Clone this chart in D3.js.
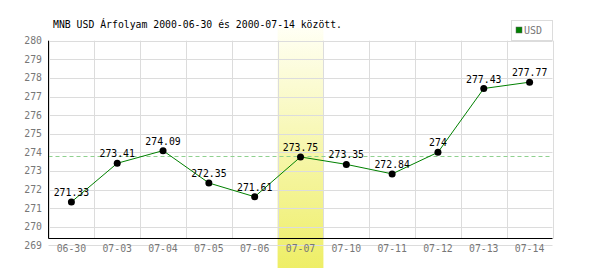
<!DOCTYPE html>
<html>
<head>
<meta charset="utf-8">
<script src="https://cdn.jsdelivr.net/npm/d3@7"></script>
<style>
  body { margin: 0; background: #fff; }
  text { font-family: "DejaVu Sans Mono", monospace; }
</style>
</head>
<body>
<div id="chart"></div>
<script>
// Data
const dates = ["06-30", "07-03", "07-04", "07-05", "07-06", "07-07", "07-10", "07-11", "07-12", "07-13", "07-14"];
const rates = [271.33, 273.41, 274.09, 272.35, 271.61, 273.75, 273.35, 272.84, 274, 277.43, 277.77];
const rateLabels = ["271.33", "273.41", "274.09", "272.35", "271.61", "273.75", "273.35", "272.84", "274", "277.43", "277.77"];
const yTicks = [269, 270, 271, 272, 273, 274, 275, 276, 277, 278, 279, 280];
const highlightDate = "07-07";
const titleText = "MNB USD Árfolyam 2000-06-30 és 2000-07-14 között.";
const seriesName = "USD";

const svg = d3.select("#chart").append("svg")
    .attr("width", 600)
    .attr("height", 270);

const plotLeft = 48.5, plotRight = 552.5, plotTop = 40.7, plotBottom = 238.5;

const x = d3.scaleBand()
    .domain(dates)
    .range([plotLeft, plotRight]);

const y = d3.scaleLinear()
    .domain([269, 280])
    .range([245.3, plotTop]);

// highlight gradient
const defs = svg.append("defs");
const grad = defs.append("linearGradient")
    .attr("id", "hl")
    .attr("x1", 0).attr("y1", 0).attr("x2", 0).attr("y2", 1);
grad.append("stop").attr("offset", "0%").attr("stop-color", "#fffff4");
grad.append("stop").attr("offset", "100%").attr("stop-color", "#eeee66");

svg.append("rect")
    .attr("x", x(highlightDate))
    .attr("y", 28)
    .attr("width", x.bandwidth())
    .attr("height", 240)
    .attr("fill", "url(#hl)");

// grid
svg.append("g")
    .selectAll("line")
    .data(yTicks)
    .join("line")
    .attr("x1", plotLeft)
    .attr("x2", plotRight)
    .attr("y1", d => Math.round(y(d)) + 0.5)
    .attr("y2", d => Math.round(y(d)) + 0.5)
    .attr("stroke", "#dcdcdc");

svg.append("g")
    .selectAll("line")
    .data(dates.concat(["end"]))
    .join("line")
    .attr("x1", (d, i) => Math.round(plotLeft + i * x.bandwidth()) + 0.5)
    .attr("x2", (d, i) => Math.round(plotLeft + i * x.bandwidth()) + 0.5)
    .attr("y1", plotTop)
    .attr("y2", plotBottom)
    .attr("stroke", "#dcdcdc");

// average line
const avg = d3.mean(rates);
svg.append("line")
    .attr("x1", plotLeft)
    .attr("x2", plotRight)
    .attr("y1", Math.round(y(avg)) + 0.5)
    .attr("y2", Math.round(y(avg)) + 0.5)
    .attr("stroke", "#8fd18f")
    .attr("stroke-dasharray", "4,3");

// axes lines
svg.append("line")
    .attr("x1", plotLeft).attr("x2", plotLeft)
    .attr("y1", plotTop).attr("y2", plotBottom)
    .attr("stroke", "#000");
svg.append("line")
    .attr("x1", plotLeft).attr("x2", plotRight)
    .attr("y1", plotBottom).attr("y2", plotBottom)
    .attr("stroke", "#000");

// y labels
svg.append("g")
    .selectAll("text")
    .data(yTicks)
    .join("text")
    .attr("x", 42)
    .attr("y", d => y(d) + 3.5)
    .attr("text-anchor", "end")
    .attr("font-size", "9.8px")
    .attr("fill", "#777")
    .text(d => d);

// x labels
svg.append("g")
    .selectAll("text")
    .data(dates)
    .join("text")
    .attr("x", d => x(d) + x.bandwidth() / 2)
    .attr("y", 252)
    .attr("text-anchor", "middle")
    .attr("font-size", "9.8px")
    .attr("fill", "#777")
    .text(d => d);

// line
const line = d3.line()
    .x((d, i) => x(dates[i]) + x.bandwidth() / 2)
    .y(d => y(d));

svg.append("path")
    .datum(rates)
    .attr("d", line)
    .attr("fill", "none")
    .attr("stroke", "#008000")
    .attr("stroke-width", 1);

// points
svg.append("g")
    .selectAll("circle")
    .data(rates)
    .join("circle")
    .attr("cx", (d, i) => x(dates[i]) + x.bandwidth() / 2)
    .attr("cy", d => y(d))
    .attr("r", 3.5)
    .attr("fill", "#000");

// point labels
svg.append("g")
    .selectAll("text")
    .data(rates)
    .join("text")
    .attr("x", (d, i) => x(dates[i]) + x.bandwidth() / 2)
    .attr("y", d => y(d) - 6)
    .attr("text-anchor", "middle")
    .attr("font-size", "9.8px")
    .attr("fill", "#000")
    .text((d, i) => rateLabels[i]);

// title
svg.append("text")
    .attr("x", 53)
    .attr("y", 28)
    .attr("font-size", "9.8px")
    .attr("fill", "#000")
    .text(titleText);

// legend
svg.append("rect")
    .attr("x", 511.5)
    .attr("y", 20.5)
    .attr("width", 41)
    .attr("height", 20)
    .attr("fill", "#fff")
    .attr("stroke", "#dcdcdc");
svg.append("rect")
    .attr("x", 516)
    .attr("y", 27)
    .attr("width", 6)
    .attr("height", 6)
    .attr("fill", "#008000")
    .attr("stroke", "#666")
    .attr("stroke-width", 0.5);
svg.append("text")
    .attr("x", 524)
    .attr("y", 34)
    .attr("font-family", "Liberation Sans Narrow, Liberation Sans, sans-serif")
    .attr("font-size", "10px")
    .attr("fill", "#777")
    .text(seriesName);
</script>
</body>
</html>
